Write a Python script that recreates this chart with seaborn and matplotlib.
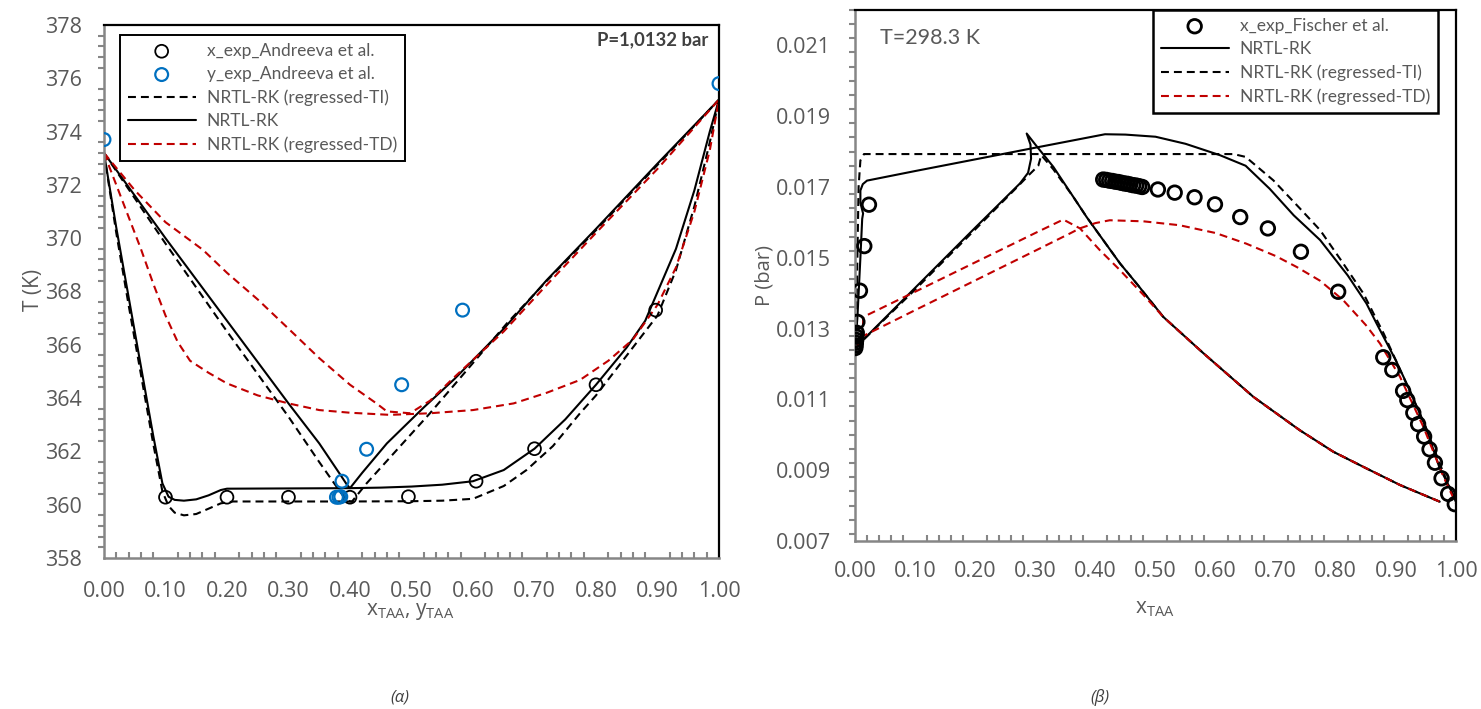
"""
    T-x-y (left) and P-x-y (right) diagrams for water + TAA, NRTL-RK model vs. experiment
"""
import matplotlib
matplotlib.use("Agg")
import matplotlib.pyplot as plt
from matplotlib.ticker import MultipleLocator, FormatStrFormatter
import seaborn as sns

# ---------------- left panel: P = 1.0132 bar ----------------
xa_exp_x = [0.10, 0.20, 0.30, 0.40, 0.495, 0.605, 0.70, 0.80, 0.897]
xa_exp_T = [360.28, 360.28, 360.28, 360.28, 360.3, 360.88, 362.1, 364.5, 367.3]
ya_exp_x = [0.0, 0.378, 0.382, 0.385, 0.387, 0.427, 0.484, 0.583, 1.0]
ya_exp_T = [373.7, 360.28, 360.28, 360.3, 360.88, 362.08, 364.5, 367.3, 375.8]

# NRTL-RK bubble / dew
rk_bub_x = [0.0, 0.02, 0.04, 0.06, 0.08, 0.095, 0.105, 0.115, 0.13, 0.15, 0.17, 0.19, 0.20, 0.30,
            0.40, 0.45, 0.50, 0.55, 0.60, 0.65, 0.70, 0.75, 0.80, 0.85, 0.88, 0.93, 0.96, 0.985, 1.0]
rk_bub_T = [373.2, 370.4, 367.8, 365.2, 362.6, 360.8, 360.3, 360.18, 360.15, 360.2, 360.35, 360.55, 360.6, 360.61,
            360.62, 360.64, 360.68, 360.75, 360.88, 361.3, 362.1, 363.2, 364.5, 365.9, 366.9, 369.6, 371.8, 374.0, 375.2]
rk_dew_x = [0.0, 0.05, 0.10, 0.20, 0.30, 0.35, 0.385, 0.395, 0.40, 0.42, 0.46, 0.52, 0.57, 0.65, 0.72, 0.80, 0.90, 1.0]
rk_dew_T = [373.2, 371.6, 370.0, 366.9, 363.8, 362.3, 361.1, 360.75, 360.62, 361.2, 362.3, 363.65, 364.72, 366.6,
            368.43, 370.35, 372.8, 375.2]

# NRTL-RK (regressed-TI)
ti_bub_x = [0.0, 0.02, 0.04, 0.06, 0.08, 0.095, 0.105, 0.115, 0.13, 0.15, 0.17, 0.19, 0.21, 0.30, 0.40, 0.50,
            0.55, 0.60, 0.65, 0.687, 0.73, 0.774, 0.80, 0.85, 0.90, 0.93, 0.96, 0.985, 1.0]
ti_bub_T = [373.2, 370.2, 367.5, 364.9, 362.3, 360.5, 359.95, 359.7, 359.6, 359.65, 359.85, 360.05, 360.12, 360.12,
            360.12, 360.13, 360.15, 360.22, 360.7, 361.3, 362.2, 363.43, 364.1, 365.6, 367.1, 368.8, 371.2, 373.6, 375.2]
ti_dew_x = [0.0, 0.05, 0.10, 0.20, 0.30, 0.35, 0.385, 0.395, 0.403, 0.427, 0.53, 0.655, 0.72, 0.80, 0.90, 1.0]
ti_dew_T = [373.2, 371.5, 369.8, 366.5, 363.3, 361.6, 360.45, 360.15, 360.11, 360.8, 363.43, 366.8, 368.4, 370.3,
            372.75, 375.2]

# NRTL-RK (regressed-TD)
td_bub_x = [0.0, 0.02, 0.04, 0.06, 0.08, 0.10, 0.12, 0.14, 0.17, 0.20, 0.25, 0.30, 0.35, 0.40, 0.465, 0.53,
            0.60, 0.666, 0.72, 0.774, 0.82, 0.86, 0.90, 0.93, 0.96, 0.985, 1.0]
td_bub_T = [373.2, 372.0, 370.8, 369.6, 368.3, 367.1, 366.1, 365.4, 364.95, 364.55, 364.1, 363.8, 363.55, 363.45,
            363.37, 363.43, 363.55, 363.8, 364.2, 364.68, 365.4, 366.2, 367.5, 368.9, 371.0, 373.3, 375.2]
td_dew_x = [0.0, 0.05, 0.10, 0.161, 0.20, 0.25, 0.302, 0.35, 0.40, 0.443, 0.46, 0.4976, 0.53, 0.568, 0.65, 0.72,
            0.80, 0.90, 1.0]
td_dew_T = [373.2, 371.8, 370.6, 369.56, 368.7, 367.7, 366.56, 365.5, 364.5, 363.8, 363.5, 363.43, 363.9, 364.75,
            366.5, 368.25, 370.2, 372.6, 375.2]

# ---------------- right panel: T = 298.3 K ----------------
fi_exp_x = [0.0005, 0.001, 0.0015, 0.002, 0.0025, 0.003, 0.004, 0.0083, 0.0155, 0.0233,
            0.413, 0.418, 0.423, 0.428, 0.433, 0.438, 0.443, 0.448, 0.453, 0.458, 0.463, 0.468, 0.473, 0.478,
            0.504, 0.532, 0.565, 0.599, 0.641, 0.687, 0.742, 0.804,
            0.879, 0.894, 0.912, 0.919, 0.929, 0.937, 0.947, 0.956, 0.965, 0.976, 0.987, 0.998]
fi_exp_P = [0.01245, 0.01252, 0.0126, 0.01268, 0.01277, 0.01288, 0.01319, 0.01407, 0.01533, 0.0165,
            0.01721, 0.0172, 0.01718, 0.01717, 0.01715, 0.01714, 0.01712, 0.0171, 0.01709, 0.01707, 0.01705,
            0.01704, 0.01702, 0.017,
            0.01693, 0.01684, 0.01671, 0.01651, 0.01615, 0.01583, 0.01517, 0.01404,
            0.01219, 0.01183, 0.01124, 0.01098, 0.01062, 0.0103, 0.00995, 0.00959, 0.00921, 0.00877, 0.00833, 0.00804]

prk_bub_x = [0.0, 0.004, 0.009, 0.012, 0.0135, 0.009, 0.009, 0.013, 0.02, 0.10, 0.20, 0.30, 0.358, 0.416, 0.45,
             0.50, 0.55, 0.607, 0.65, 0.69, 0.73, 0.774, 0.82, 0.851, 0.868, 0.90, 0.923, 0.95, 0.972, 1.0]
prk_bub_P = [0.01245, 0.0133, 0.0150, 0.0161, 0.01625, 0.01655, 0.0169, 0.01708, 0.01718, 0.01745, 0.01778,
             0.01811, 0.0183, 0.01849, 0.01848, 0.01842, 0.01822, 0.0179, 0.0176, 0.01695, 0.0162, 0.0155, 0.0145,
             0.01371, 0.01314, 0.0121, 0.01126, 0.0102, 0.0091, 0.00816]
prk_dew_x = [0.0, 0.10, 0.20, 0.2745, 0.288, 0.293, 0.292, 0.2857, 0.30, 0.33, 0.3633, 0.3855, 0.413, 0.441,
             0.4687, 0.513, 0.58, 0.663, 0.74, 0.796, 0.851, 0.907, 0.973]
prk_dew_P = [0.01245, 0.01415, 0.01585, 0.0171, 0.0174, 0.0178, 0.0182, 0.01851, 0.0182, 0.01757, 0.01672,
             0.01615, 0.0155, 0.01484, 0.01427, 0.01333, 0.0123, 0.01107, 0.01013, 0.00952, 0.00905, 0.00858,
             0.00811]

pti_bub_x = [0.0, 0.003, 0.005, 0.006, 0.009, 0.015, 0.30, 0.63, 0.65, 0.696, 0.74, 0.774, 0.81, 0.846, 0.88,
             0.92, 0.95, 0.975, 1.0]
pti_bub_P = [0.01245, 0.0140, 0.0160, 0.0170, 0.01775, 0.01793, 0.01793, 0.01793, 0.01785, 0.01719, 0.0164,
             0.01578, 0.0149, 0.01399, 0.01285, 0.01135, 0.0102, 0.0091, 0.0081]
pti_dew_x = [0.0, 0.10, 0.20, 0.27, 0.29, 0.305, 0.31, 0.33, 0.3633, 0.3855, 0.413, 0.441, 0.4687, 0.513, 0.58,
             0.663, 0.74, 0.796, 0.851, 0.907, 0.973]
pti_dew_P = [0.01245, 0.0141, 0.0158, 0.0170, 0.01735, 0.0176, 0.0179, 0.0175, 0.01672, 0.01615, 0.0155,
             0.01484, 0.01427, 0.01333, 0.0123, 0.01107, 0.01013, 0.00952, 0.00905, 0.00858, 0.00811]

ptd_bub_x = [0.0, 0.003, 0.10, 0.20, 0.30, 0.358, 0.374, 0.40, 0.424, 0.48, 0.54, 0.60, 0.651, 0.70, 0.735,
             0.774, 0.8125, 0.85, 0.8735, 0.9068, 0.9456, 0.979, 1.0]
ptd_bub_P = [0.01245, 0.0127, 0.01352, 0.01436, 0.0152, 0.01569, 0.01583, 0.01598, 0.01606, 0.01603, 0.01592,
             0.0157, 0.0154, 0.01505, 0.01474, 0.01435, 0.0138, 0.0131, 0.01258, 0.01164, 0.01023, 0.00882,
             0.00806]
ptd_dew_x = [0.0, 0.012, 0.014, 0.10, 0.20, 0.30, 0.3466, 0.3744, 0.4077, 0.441, 0.48, 0.513, 0.58, 0.663,
             0.74, 0.796, 0.851, 0.907, 0.973]
ptd_dew_P = [0.01245, 0.0127, 0.01333, 0.01404, 0.01487, 0.0157, 0.01608, 0.01583, 0.01521, 0.01465, 0.01395,
             0.01333, 0.0123, 0.01107, 0.01013, 0.00952, 0.00905, 0.00858, 0.00811]

BLACK = "black"
RED = "#C00000"
BLUE = "#0070C0"
GREY = "#868686"
TXT = "#595959"
DASH = (0, (3.8, 2.4))

sns.set_style("white")
plt.rcParams['font.family'] = ['Open Sans', 'DejaVu Sans']
plt.rcParams['mathtext.fontset'] = 'custom'
plt.rcParams['mathtext.rm'] = 'Open Sans'

fig = plt.figure(figsize=(14.81, 7.09), dpi=100)
ax1 = fig.add_axes([0.0702, 0.2130, 0.4153, 0.7518])
ax2 = fig.add_axes([0.5773, 0.2370, 0.4058, 0.7489])


def curve(ax, x, y, color, ls, label=None):
    sns.lineplot(x=x, y=y, ax=ax, color=color, lw=1.5, ls=ls, sort=False, estimator=None, label=label)


def style_axes(ax, xpad, ypad):
    for side in ["left", "bottom"]:
        ax.spines[side].set_color(GREY)
        ax.spines[side].set_linewidth(1.8)
    for side in ["top", "right"]:
        ax.spines[side].set_color(BLACK)
        ax.spines[side].set_linewidth(1.6)
    ax.tick_params(which="major", direction="inout", length=10, width=1.5, color=GREY,
                   labelcolor=TXT, labelsize=15.5)
    ax.tick_params(axis="x", which="major", pad=xpad)
    ax.tick_params(axis="y", which="major", pad=ypad)
    ax.tick_params(axis="x", which="minor", direction="in", length=4, width=1.5, color=GREY, bottom=True)
    ax.tick_params(axis="y", which="minor", direction="out", length=4, width=1.5, color=GREY, left=True)
    ax.tick_params(top=False, right=False, which="both")


def make_legend(ax, anchor, frame_lw):
    h, l = ax.get_legend_handles_labels()
    ax.legend(h, l, loc="upper left", bbox_to_anchor=anchor, bbox_transform=fig.transFigure,
              borderaxespad=0, frameon=True, fancybox=False, framealpha=1, edgecolor=BLACK,
              handlelength=3.9, handletextpad=0.65, labelspacing=0.42, borderpad=0.45, scatterpoints=1,
              labelcolor=TXT, prop={"family": ["Lato", "DejaVu Sans"], "size": 12.5})
    ax.get_legend().get_frame().set_linewidth(frame_lw)


# ---- left panel ----
ax = ax1
sns.scatterplot(x=xa_exp_x, y=xa_exp_T, ax=ax, marker="o", s=85, facecolor="none",
                edgecolor=BLACK, linewidth=1.3, label="x_exp_Andreeva et al.", zorder=5)
sns.scatterplot(x=ya_exp_x, y=ya_exp_T, ax=ax, marker="o", s=85, facecolor="none",
                edgecolor=BLUE, linewidth=1.6, label="y_exp_Andreeva et al.", zorder=6)
curve(ax, ti_bub_x, ti_bub_T, BLACK, DASH, "NRTL-RK (regressed-TI)")
curve(ax, ti_dew_x, ti_dew_T, BLACK, DASH)
curve(ax, rk_bub_x, rk_bub_T, BLACK, "-", "NRTL-RK")
curve(ax, rk_dew_x, rk_dew_T, BLACK, "-")
curve(ax, td_bub_x, td_bub_T, RED, DASH, "NRTL-RK (regressed-TD)")
curve(ax, td_dew_x, td_dew_T, RED, DASH)

ax.set_xlim(0, 1)
ax.set_ylim(358, 378)
ax.xaxis.set_major_locator(MultipleLocator(0.1))
ax.xaxis.set_minor_locator(MultipleLocator(0.02))
ax.yaxis.set_major_locator(MultipleLocator(2))
ax.yaxis.set_minor_locator(MultipleLocator(0.4))
ax.xaxis.set_major_formatter(FormatStrFormatter("%.2f"))
ax.set_xlabel(r"x$_{\mathregular{TAA}}$, y$_{\mathregular{TAA}}$", fontsize=15, color=TXT)
ax.set_ylabel("T (K)", fontsize=15, color=TXT)
ax.xaxis.set_label_coords(0.4976, -0.08)
ax.yaxis.set_label_coords(-0.098, 0.503)
style_axes(ax, 11.5, 11)
ax.text(0.982, 0.972, "P=1,0132 bar", transform=ax.transAxes, ha="right", va="center",
        fontsize=13.3, fontweight="bold", color="#404040", family=["Lato", "DejaVu Sans"])
make_legend(ax, (120 / 1481, 1 - 35 / 709), 1.4)

# ---- right panel ----
ax = ax2
sns.scatterplot(x=fi_exp_x, y=fi_exp_P, ax=ax, marker="o", s=95, facecolor="none",
                edgecolor=BLACK, linewidth=2.0, label="x_exp_Fischer et al.", zorder=5)
curve(ax, prk_bub_x, prk_bub_P, BLACK, "-", "NRTL-RK")
curve(ax, prk_dew_x, prk_dew_P, BLACK, "-")
curve(ax, pti_bub_x, pti_bub_P, BLACK, DASH, "NRTL-RK (regressed-TI)")
curve(ax, pti_dew_x, pti_dew_P, BLACK, DASH)
curve(ax, ptd_bub_x, ptd_bub_P, RED, DASH, "NRTL-RK (regressed-TD)")
curve(ax, ptd_dew_x, ptd_dew_P, RED, DASH)

ax.set_xlim(0, 1)
ax.set_ylim(0.007, 0.022)
ax.xaxis.set_major_locator(MultipleLocator(0.1))
ax.xaxis.set_minor_locator(MultipleLocator(0.02))
ax.set_yticks([0.007, 0.009, 0.011, 0.013, 0.015, 0.017, 0.019, 0.021])
ax.yaxis.set_minor_locator(MultipleLocator(0.0004))
ax.xaxis.set_major_formatter(FormatStrFormatter("%.2f"))
ax.yaxis.set_major_formatter(FormatStrFormatter("%.3f"))
ax.set_xlabel(r"x$_{\mathregular{TAA}}$", fontsize=15, color=TXT)
ax.set_ylabel("P (bar)", fontsize=14.5, color=TXT)
ax.xaxis.set_label_coords(0.499, -0.107)
ax.yaxis.set_label_coords(-0.134, 0.5)
style_axes(ax, 9.5, 12.5)
ax.text(0.042, 0.947, "T=298.3 K", transform=ax.transAxes, ha="left", va="center",
        fontsize=15.5, color=TXT, family=["Lato", "DejaVu Sans"])
make_legend(ax, (1153 / 1481, 1 - 10 / 709), 1.8)

# captions
fig.text(400 / 1481, 1 - 697 / 709, "(α)", ha="center", va="center", fontsize=12, style="italic", color="#404040")
fig.text(1100 / 1481, 1 - 697 / 709, "(β)", ha="center", va="center", fontsize=12, style="italic", color="#404040")

plt.savefig("out.png", dpi=100)
plt.close()
